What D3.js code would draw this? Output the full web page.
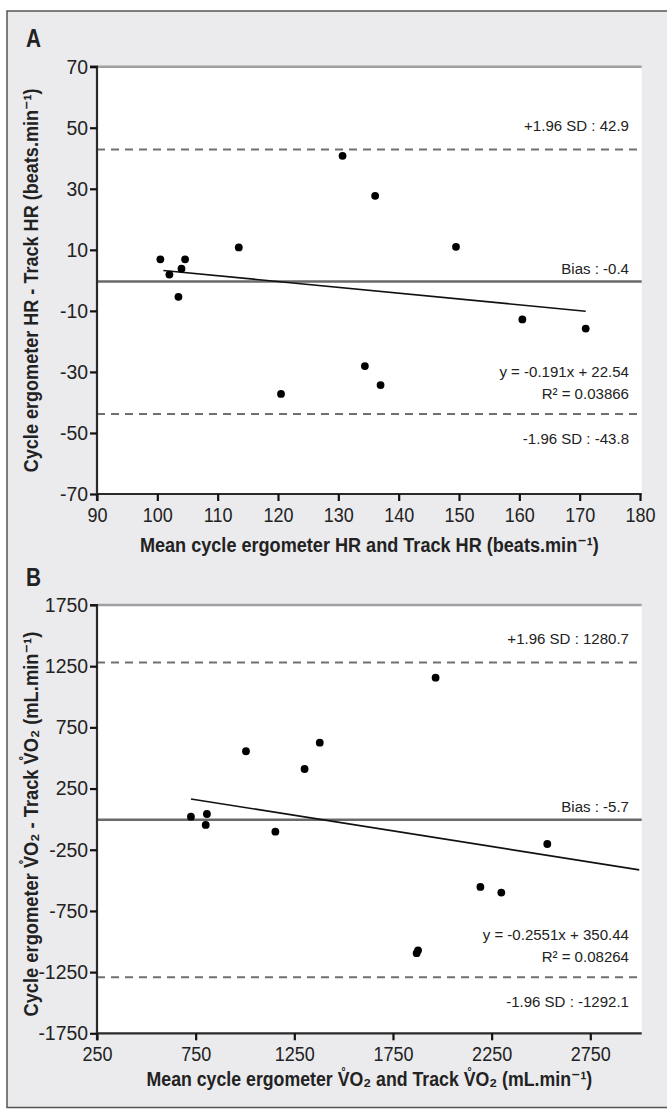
<!DOCTYPE html>
<html><head><meta charset="utf-8">
<script src="https://cdn.jsdelivr.net/npm/d3@7"></script>
<style>
html,body{margin:0;padding:0;background:#fff;}
svg{display:block;}
text{font-family:"Liberation Sans","DejaVu Sans",Arial,sans-serif;fill:#222;}
</style></head>
<body>
<svg id="chart" width="667" height="1109"></svg>
<script>
// ---- Panel A data (HR) ----
const hrMean = [100.5, 102.0, 103.5, 104.0, 104.6, 113.5, 120.5, 130.7, 134.4, 136.1, 137.0, 149.5, 160.5, 171.0];
const hrDiff = [6.9, 1.9, -5.4, 3.8, 6.9, 10.8, -37.2, 40.8, -28.1, 27.7, -34.3, 11.0, -12.8, -15.8];
const hrTicksX = [90, 100, 110, 120, 130, 140, 150, 160, 170, 180];
const hrTicksY = [70, 50, 30, 10, -10, -30, -50, -70];
const hrLimits = {upper: 42.9, bias: -0.4, lower: -43.8};
const hrFit = {slope: -0.191, intercept: 22.54, r2: "0.03866", x0: 101, x1: 171};

// ---- Panel B data (VO2) ----
const voMean = [726, 801, 807, 1005, 1154, 1302, 1379, 1966, 1870, 1877, 2193, 2299, 2532];
const voDiff = [20, -47, 42, 555, -102, 410, 625, 1156, -1095, -1072, -554, -600, -203];
const voTicksX = [250, 750, 1250, 1750, 2250, 2750];
const voTicksY = [1750, 1250, 750, 250, -250, -750, -1250, -1750];
const voLimits = {upper: 1280.7, bias: -5.7, lower: -1292.1};
const voFit = {slope: -0.2551, intercept: 350.44, r2: "0.08264", x0: 726, x1: 2998};

const svg = d3.select("#chart");

function condense(sel, factor) {
  sel.each(function () {
    const w = this.getComputedTextLength() * factor;
    d3.select(this).attr("textLength", w).attr("lengthAdjust", "spacingAndGlyphs");
  });
}

svg.append("rect").attr("x", 7).attr("y", 11).attr("width", 667).attr("height", 1096.5)
  .attr("fill", "#ebebed").attr("stroke", "#555").attr("stroke-width", 1.5);

const L = 97, R = 641.7;

// title drawn with a horizontal scale so that it spans the wanted width
function scaledTitle(g, txt, base, target) {
  const t = g.append("text").attr("text-anchor", "middle").attr("font-size", 21).attr("font-weight", "bold").text(txt);
  const sx = target / t.node().getComputedTextLength();
  t.attr("transform", `${base} scale(${sx},1)`);
  return t;
}

function panel(cfg) {
  const g = svg.append("g");
  const x = d3.scaleLinear().domain(cfg.xDomain).range([L, cfg.xRangeRight]);
  const y = d3.scaleLinear().domain(cfg.yDomain).range([cfg.bottom, cfg.top]);

  g.append("rect").attr("x", L).attr("y", cfg.top).attr("width", R - L).attr("height", cfg.bottom - cfg.top).attr("fill", "#fff");

  g.append("line").attr("x1", L).attr("x2", R).attr("y1", y(cfg.yDomain[1])).attr("y2", y(cfg.yDomain[1]))
    .attr("stroke", "#a0a0a3").attr("stroke-width", 2.5);

  [cfg.limits.upper, cfg.limits.lower].forEach(v => {
    g.append("line").attr("x1", L).attr("x2", R).attr("y1", y(v)).attr("y2", y(v))
      .attr("stroke", "#707070").attr("stroke-width", 2).attr("stroke-dasharray", "8,6");
  });
  g.append("line").attr("x1", L).attr("x2", R).attr("y1", y(cfg.limits.bias)).attr("y2", y(cfg.limits.bias))
    .attr("stroke", "#6a6a6a").attr("stroke-width", 2.5);

  const f = cfg.fit;
  g.append("line").attr("x1", x(f.x0)).attr("x2", x(f.x1))
    .attr("y1", y(f.slope * f.x0 + f.intercept)).attr("y2", y(f.slope * f.x1 + f.intercept))
    .attr("stroke", "#111").attr("stroke-width", 1.6);

  g.selectAll("circle.pt").data(cfg.xs.map((d, i) => [d, cfg.ys[i]])).enter().append("circle")
    .attr("cx", d => x(d[0])).attr("cy", d => y(d[1])).attr("r", 3.9).attr("fill", "#000");

  const fmt = d => String(d);
  const yAxis = d3.axisLeft(y).tickValues(cfg.yTicks).tickFormat(fmt).tickSize(7).tickPadding(2);
  const ya = g.append("g").attr("transform", `translate(${L},0)`).call(yAxis);
  ya.select(".domain").attr("stroke", "#2a2a2a").attr("stroke-width", 2.2).attr("d", `M-7,${cfg.top}H0V${cfg.bottom}`);
  ya.selectAll(".tick line").attr("stroke", "#111").attr("stroke-width", 2.2);
  const yt = ya.selectAll(".tick text").attr("font-size", 20).attr("fill", "#222")
    .attr("font-family", '"Liberation Sans",Arial,sans-serif');
  condense(yt, 0.97);

  const xAxis = d3.axisBottom(x).tickValues(cfg.xTicks).tickFormat(fmt).tickSize(7).tickPadding(7);
  const xa = g.append("g").attr("transform", `translate(0,${cfg.bottom})`).call(xAxis);
  xa.select(".domain").attr("stroke", "#2a2a2a").attr("stroke-width", 2.2).attr("d", `M${L},7V0H${R}`);
  xa.selectAll(".tick line").attr("stroke", "#111").attr("stroke-width", 2.2);
  const xt = xa.selectAll(".tick text").attr("font-size", 20).attr("fill", "#222")
    .attr("font-family", '"Liberation Sans",Arial,sans-serif');
  condense(xt, 0.9);

  const ax = 629;
  const anns = [];
  const ann = (txt, yy) => { const t = g.append("text").attr("x", ax).attr("y", yy).attr("text-anchor", "end")
    .attr("font-size", 15.5).text(txt); anns.push(t); return t; };
  ann(cfg.upperLabel, y(cfg.limits.upper) - 18);
  ann(cfg.biasLabel, y(cfg.limits.bias) - 8);
  ann(cfg.eqLabel, cfg.eqY);
  ann("R\u00B2 = " + f.r2, cfg.eqY + 22);
  ann(cfg.lowerLabel, y(cfg.limits.lower) + 30);
  anns.forEach(t => condense(t, 0.97));

  const lt = g.append("text").attr("x", 26).attr("y", cfg.letterY).attr("font-size", 26).attr("font-weight", "bold").text(cfg.letter);
  condense(lt, 0.8);

  scaledTitle(g, cfg.xTitle, `translate(${(L + R) / 2},${cfg.xTitleY})`, cfg.xTitleLen);
  scaledTitle(g, cfg.yTitle, `translate(38,${(cfg.top + cfg.bottom) / 2 + cfg.yTitleShift}) rotate(-90)`, cfg.yTitleLen);
}

const V = "V\u030AO\u2082";
const MIN = "min\u207B\u00B9";

panel({
  letter: "A", letterY: 47,
  xDomain: [90, 180], xRangeRight: 640,
  yDomain: [-70, 70], top: 66.7, bottom: 494,
  xs: hrMean, ys: hrDiff, xTicks: hrTicksX, yTicks: hrTicksY,
  limits: hrLimits, fit: hrFit,
  upperLabel: "+1.96 SD : 42.9", biasLabel: "Bias : -0.4", lowerLabel: "-1.96 SD : -43.8",
  eqLabel: "y = -0.191x + 22.54", eqY: 377, yTitleShift: 0,
  xTitleY: 552, xTitleLen: 459, yTitleLen: 384,
  xTitle: "Mean cycle ergometer HR and Track HR (beats." + MIN + ")",
  yTitle: "Cycle ergometer HR - Track HR (beats." + MIN + ")"
});

panel({
  letter: "B", letterY: 586,
  xDomain: [250, 2750], xRangeRight: 590.3,
  yDomain: [-1750, 1750], top: 605, bottom: 1033.3,
  xs: voMean, ys: voDiff, xTicks: voTicksX, yTicks: voTicksY,
  limits: voLimits, fit: voFit,
  upperLabel: "+1.96 SD : 1280.7", biasLabel: "Bias : -5.7", lowerLabel: "-1.96 SD : -1292.1",
  eqLabel: "y = -0.2551x + 350.44", eqY: 940, yTitleShift: 5,
  xTitleY: 1086, xTitleLen: 446, yTitleLen: 385,
  xTitle: "Mean cycle ergometer " + V + " and Track " + V + " (mL." + MIN + ")",
  yTitle: "Cycle ergometer " + V + " - Track " + V + " (mL." + MIN + ")"
});
</script>
</body></html>
